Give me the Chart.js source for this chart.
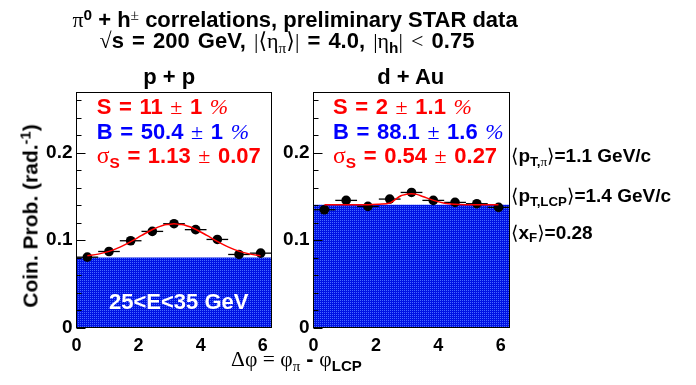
<!DOCTYPE html>
<html><head><meta charset="utf-8">
<script src="https://cdn.jsdelivr.net/npm/chart.js@4.4.1/dist/chart.umd.min.js"></script>
<style>
html,body{margin:0;padding:0;background:#fff;}
#wrap{position:relative;width:696px;height:385px;overflow:hidden;font-family:"Liberation Sans",Arial,Helvetica,sans-serif;font-weight:bold;color:#000;}
canvas{position:absolute;left:0;top:0;}
.t{position:absolute;white-space:nowrap;line-height:1;}
.c{transform:translateX(-50%);}
.s{font-family:"Liberation Serif","DejaVu Serif",serif;font-weight:normal;}
.sb{font-size:0.7em;position:relative;top:0.3em;}
.sp{font-size:0.7em;position:relative;top:-0.45em;}
.red{color:#ff0000;}
.blue{color:#0000ff;}
.it{font-style:italic;}
.ws{word-spacing:1.5px;}
</style></head>
<body><div id="wrap">
<canvas id="cpp" width="696" height="385"></canvas>
<canvas id="cdau" width="696" height="385"></canvas>

<div class="t c" style="left:295px;top:9px;font-size:22px;"><span class="s">π</span><span class="sp">0</span> + h<span class="sp s">±</span> correlations, preliminary STAR data</div>
<div class="t c" style="left:287px;top:30px;font-size:22px;word-spacing:2px;"><span class="s">√</span>s = 200 GeV, <span class="s">|⟨η</span><span class="sb s">π</span><span class="s">⟩|</span> = 4.0, <span class="s">|η</span><span class="sb">h</span><span class="s">|</span> <span class="s">&lt;</span> 0.75</div>
<div class="t c" style="left:169.2px;top:65.7px;font-size:22px;">p + p</div>
<div class="t c" style="left:410.8px;top:65.7px;font-size:22px;">d + Au</div>

<div class="t red ws" style="left:96.7px;top:95.7px;font-size:22px;">S = 11 <span class="s">±</span> 1 <span class="s it">%</span></div>
<div class="t blue ws" style="left:96.7px;top:120.8px;font-size:22px;">B = 50.4 <span class="s">±</span> 1 <span class="s it">%</span></div>
<div class="t red ws" style="left:96.7px;top:144.1px;font-size:22px;"><span class="s" style="font-size:1.08em">σ</span><span class="sb">S</span> = 1.13 <span class="s">±</span> 0.07</div>

<div class="t red ws" style="left:333px;top:95.7px;font-size:22px;">S = 2 <span class="s">±</span> 1.1 <span class="s it">%</span></div>
<div class="t blue ws" style="left:333px;top:120.8px;font-size:22px;">B = 88.1 <span class="s">±</span> 1.6 <span class="s it">%</span></div>
<div class="t red ws" style="left:333px;top:144.1px;font-size:22px;"><span class="s" style="font-size:1.08em">σ</span><span class="sb">S</span> = 0.54 <span class="s">±</span> 0.27</div>

<div class="t c" style="left:178.7px;top:291.4px;font-size:22px;color:#fff;">25&lt;E&lt;35 GeV</div>

<div class="t" style="left:511px;top:146px;font-size:19px;"><span class="s">⟨</span>p<span class="sb">T,<span class="s">π</span></span><span class="s">⟩</span>=1.1 GeV/c</div>
<div class="t" style="left:511px;top:186px;font-size:19px;"><span class="s">⟨</span>p<span class="sb">T,LCP</span><span class="s">⟩</span>=1.4 GeV/c</div>
<div class="t" style="left:511px;top:222.5px;font-size:19px;"><span class="s">⟨</span>x<span class="sb">F</span><span class="s">⟩</span>=0.28</div>

<div class="t" style="left:30px;top:216px;font-size:21px;transform:translate(-50%,-50%) rotate(-90deg);">Coin. Prob. (rad.<span class="sp">-1</span>)</div>
<div class="t c" style="left:296.5px;top:349px;font-size:21.5px;"><span class="s">Δφ = φ</span><span class="sb s">π</span> - <span class="s">φ</span><span class="sb">LCP</span></div>
</div>
<script>
// ---- data ----
const TWO_PI = 6.283185307;
const binCenters = [0.349, 1.047, 1.745, 2.443, 3.142, 3.840, 4.538, 5.236, 5.934];
const binHalfWidth = 0.349;
const ppValues  = [0.0805, 0.0870, 0.0993, 0.1100, 0.1188, 0.1120, 0.1008, 0.0836, 0.0851];
const dAuValues = [0.1348, 0.1455, 0.1386, 0.1470, 0.1546, 0.1455, 0.1432, 0.1417, 0.1375];
const ppBackground  = 0.0802;
const dAuBackground = 0.1405;
const fitX   = [0.35, 0.70, 1.05, 1.40, 1.75, 2.10, 2.45, 2.80, 2.97, 3.14, 3.31, 3.50, 3.85, 4.20, 4.55, 4.90, 5.25, 5.60, 5.93];
const ppFit  = [0.0820, 0.0840, 0.0871, 0.0920, 0.0983, 0.1054, 0.1122, 0.1171, 0.1180, 0.1188, 0.1180, 0.1171, 0.1122, 0.1054, 0.0983, 0.0920, 0.0871, 0.0840, 0.0820];
const dAuFit = [0.1405, 0.1405, 0.1405, 0.1406, 0.1406, 0.1412, 0.1426, 0.1508, 0.1524, 0.1530, 0.1524, 0.1500, 0.1455, 0.1422, 0.1410, 0.1406, 0.1405, 0.1405, 0.1405];
const xTicks = [0, 2, 4, 6];
const yMajorTicks = [0, 0.1, 0.2];
const yMinorTicks = [0.02, 0.04, 0.06, 0.08, 0.12, 0.14, 0.16, 0.18, 0.22, 0.24, 0.26];
const yMax = 0.269;

function makePattern(){
  const c = document.createElement('canvas'); c.width = 2; c.height = 2;
  const g = c.getContext('2d');
  g.fillStyle = 'rgb(0,18,228)'; g.fillRect(0,0,2,2);
  g.fillStyle = 'rgb(70,105,255)'; g.fillRect(0,0,1,1);
  return g.createPattern(c, 'repeat');
}

const framePlugin = {
  id: 'frame',
  afterDatasetDraw(chart, args){
    if (args.index !== 1) return;
    const {ctx, scales:{x, y}} = chart;
    ctx.save();
    ctx.strokeStyle = '#000'; ctx.lineWidth = 1.3;
    chart.data.datasets[1].data.forEach(p => {
      const py = y.getPixelForValue(p.y);
      ctx.beginPath();
      ctx.moveTo(x.getPixelForValue(p.x - binHalfWidth), py);
      ctx.lineTo(x.getPixelForValue(p.x + binHalfWidth), py);
      ctx.stroke();
    });
    ctx.restore();
  },
  afterDraw(chart){
    const {ctx, chartArea:a, scales:{y}} = chart;
    ctx.save();
    ctx.strokeStyle = '#000'; ctx.lineWidth = 1;
    ctx.strokeRect(a.left, a.top, a.right - a.left, a.bottom - a.top);
    ctx.beginPath();
    yMajorTicks.forEach(v => { const py = Math.round(y.getPixelForValue(v)) + 0.5; ctx.moveTo(a.left, py); ctx.lineTo(a.left + 9, py); });
    yMinorTicks.forEach(v => { const py = Math.round(y.getPixelForValue(v)) + 0.5; ctx.moveTo(a.left, py); ctx.lineTo(a.left + 5, py); });
    ctx.stroke();
    ctx.restore();
  }
};

function makeChart(id, values, bg, fit, padLeft, padRight){
  new Chart(document.getElementById(id), {
    type: 'scatter',
    data: { datasets: [
      { type:'line', data: fitX.map((x,i)=>({x, y: fit[i]})), borderColor:'#ff0000', borderWidth:1.5, pointRadius:0, cubicInterpolationMode:'monotone', fill:false, order:1 },
      { type:'scatter', data: binCenters.map((x,i)=>({x, y: values[i]})), pointRadius:4.8, pointHoverRadius:4.8, backgroundColor:'#000', borderColor:'#000', borderWidth:0, order:2 },
      { type:'line', data: [{x:0, y:bg}, {x:TWO_PI, y:bg}], fill:'origin', backgroundColor: makePattern(), borderWidth:0, borderColor:'rgba(0,0,0,0)', pointRadius:0, order:3 }
    ]},
    options: {
      responsive:false, animation:false, events:[],
      layout:{ padding:{ left:padLeft, right:padRight, top:92.5, bottom:27.5 } },
      plugins:{ legend:{display:false}, tooltip:{enabled:false} },
      scales:{
        x:{ type:'linear', min:0, max:TWO_PI,
            afterBuildTicks: s => { s.ticks = xTicks.map(v => ({value:v})); },
            afterFit: s => { s.height = 30; },
            grid:{display:false, drawTicks:false}, border:{display:false},
            ticks:{ color:'#000', padding:8, maxRotation:0, autoSkip:false, font:{family:'"Liberation Sans", Arial, sans-serif', weight:'bold', size:18}, callback: v => String(v) } },
        y:{ type:'linear', min:0, max:yMax,
            afterBuildTicks: s => { s.ticks = yMajorTicks.map(v => ({value:v})); },
            afterFit: s => { s.width = 40.5; },
            grid:{display:false, drawTicks:false}, border:{display:false},
            ticks:{ color:'#000', padding:4, autoSkip:false, font:{family:'"Liberation Sans", Arial, sans-serif', weight:'bold', size:19}, callback: v => v === 0 ? '0' : v.toFixed(1) } }
      }
    },
    plugins:[framePlugin]
  });
}

makeChart('cpp', ppValues, ppBackground, ppFit, 36, 424.5);
makeChart('cdau', dAuValues, dAuBackground, dAuFit, 273, 186.5);
</script>
</body></html>
